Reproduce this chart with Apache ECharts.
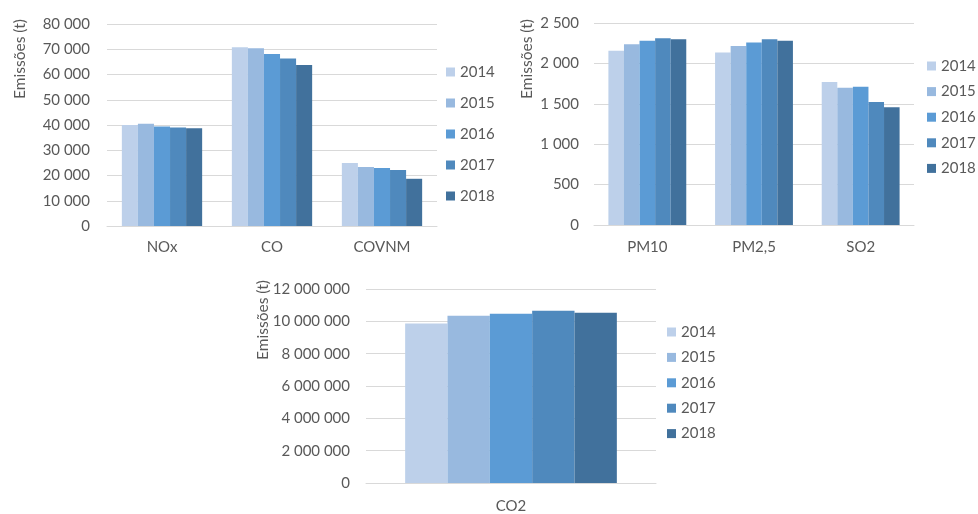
<!DOCTYPE html>
<html>
<head>
<meta charset="utf-8">
<title>Emissões</title>
<script src="https://cdn.jsdelivr.net/npm/echarts@6/dist/echarts.min.js"></script>
<style>
  html, body { margin: 0; padding: 0; background: #ffffff; }
  #chart { width: 978px; height: 514px; }
</style>
</head>
<body>
<div id="chart"></div>
<script>
// Anos (séries) e poluentes (categorias)
const years = ['2014', '2015', '2016', '2017', '2018'];
const gasCategories = ['NOx', 'CO', 'COVNM'];
const particleCategories = ['PM10', 'PM2,5', 'SO2'];
const co2Categories = ['CO2'];

// Emissões por ano, 2014 → 2018 (t)
const nox   = [40000, 40500, 39400, 39000, 38700];
const co    = [70800, 70400, 68100, 66300, 63800];
const covnm = [25000, 23400, 23000, 22200, 18700];
const pm10  = [2156, 2238, 2280, 2312, 2300];
const pm25  = [2136, 2214, 2259, 2300, 2280];
const so2   = [1770, 1700, 1712, 1523, 1457];
const co2   = [9860000, 10346000, 10468000, 10650000, 10530000];

// Escalas dos eixos verticais
const gasAxis = { min: 0, max: 80000, interval: 10000 };
const particleAxis = { min: 0, max: 2500, interval: 500 };
const co2Axis = { min: 0, max: 12000000, interval: 2000000 };

const yearColors = ['#BDD0EA', '#98B9DF', '#5B9BD5', '#4F89BD', '#41719C'];
const textColor = '#595959';
const lineColor = '#D9D9D9';
const fontFamily = 'Lato, "Open Sans", sans-serif';
const fontSize = 15;

function spaced(v) {
  return String(v).replace(/\B(?=(\d{3})+(?!\d))/g, ' ');
}

function xAxisFor(gridIndex, data, margin) {
  return {
    type: 'category',
    gridIndex: gridIndex,
    data: data,
    axisTick: { show: false },
    axisLine: { lineStyle: { color: lineColor, width: 1 } },
    axisLabel: { color: textColor, fontSize: fontSize, fontFamily: fontFamily, margin: margin }
  };
}

function yAxisFor(gridIndex, scale, margin) {
  return {
    type: 'value',
    gridIndex: gridIndex,
    min: scale.min,
    max: scale.max,
    interval: scale.interval,
    axisLine: { show: false },
    axisTick: { show: false },
    splitLine: { lineStyle: { color: lineColor, width: 1 } },
    axisLabel: {
      color: textColor, fontSize: fontSize, fontFamily: fontFamily, margin: margin,
      formatter: spaced
    }
  };
}

function legendFor(left, top, gap) {
  return {
    orient: 'vertical',
    left: left,
    top: top,
    padding: 0,
    itemWidth: 9,
    itemHeight: 9,
    itemGap: gap,
    icon: 'rect',
    data: years,
    selectedMode: false,
    textStyle: { color: textColor, fontSize: fontSize, fontFamily: fontFamily, lineHeight: 16 }
  };
}

function axisTitle(x, y) {
  return {
    type: 'text',
    x: x,
    y: y,
    rotation: Math.PI / 2,
    style: {
      text: 'Emissões (t)',
      fill: textColor,
      font: '15.5px ' + fontFamily,
      align: 'center',
      verticalAlign: 'middle'
    }
  };
}

const series = [];
years.forEach(function (year, i) {
  const bar = {
    type: 'bar',
    name: year,
    barGap: '0%',
    barCategoryGap: '27%',
    itemStyle: { color: yearColors[i] },
    emphasis: { disabled: true }
  };
  series.push(Object.assign({}, bar, { xAxisIndex: 0, yAxisIndex: 0, data: [nox[i], co[i], covnm[i]] }));
  series.push(Object.assign({}, bar, { xAxisIndex: 1, yAxisIndex: 1, data: [pm10[i], pm25[i], so2[i]] }));
  series.push(Object.assign({}, bar, { xAxisIndex: 2, yAxisIndex: 2, data: [co2[i]] }));
});

const chart = echarts.init(document.getElementById('chart'), null, { renderer: 'canvas' });
chart.setOption({
  animation: false,
  color: yearColors,
  grid: [
    { left: 107, top: 24, width: 330, height: 202 },
    { left: 594, top: 23, width: 320, height: 202 },
    { left: 366, top: 289, width: 290, height: 197 }
  ],
  xAxis: [
    xAxisFor(0, gasCategories, 14),
    xAxisFor(1, particleCategories, 15),
    xAxisFor(2, co2Categories, 16)
  ],
  yAxis: [
    yAxisFor(0, gasAxis, 17),
    yAxisFor(1, particleAxis, 15),
    yAxisFor(2, co2Axis, 16)
  ],
  legend: [
    legendFor(446, 64, 15),
    legendFor(927, 58, 9.6),
    legendFor(667, 324, 9.4)
  ],
  graphic: [
    axisTitle(20, 59),
    axisTitle(527, 59),
    axisTitle(263, 320)
  ],
  series: series
});
</script>
</body>
</html>
